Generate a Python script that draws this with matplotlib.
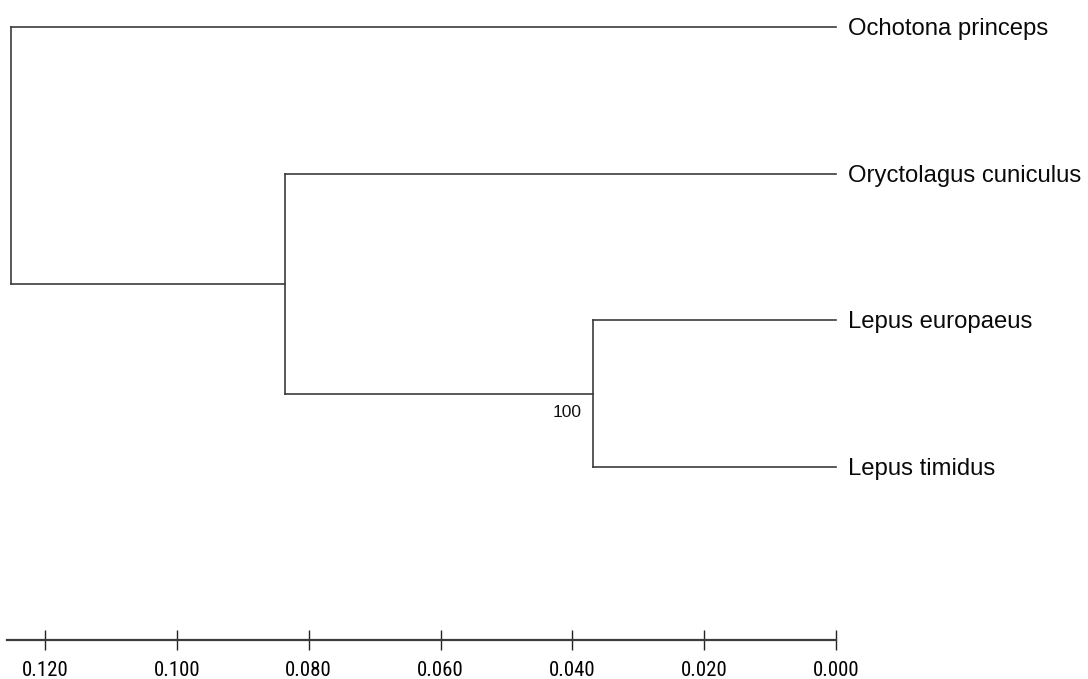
import matplotlib
matplotlib.use("Agg")
import matplotlib.pyplot as plt
from matplotlib import font_manager

# tree data
leaves = ["Ochotona princeps", "Oryctolagus cuniculus", "Lepus europaeus", "Lepus timidus"]
node_heights = {"root": 0.1252, "n1": 0.0836, "n2": 0.0368}
children = {"root": ["Ochotona princeps", "n1"],
            "n1": ["Oryctolagus cuniculus", "n2"],
            "n2": ["Lepus europaeus", "Lepus timidus"]}
bootstrap = {"n2": "100"}
scale_ticks = [0.120, 0.100, 0.080, 0.060, 0.040, 0.020, 0.000]

line_col = "#3c3c3c"
lw = 1.2

# narrow font for the scale labels if one is installed
installed = set(f.name for f in font_manager.fontManager.ttflist)
narrow = None
for name in ["Liberation Sans Narrow", "Arial Narrow", "DejaVu Sans Condensed", "Roboto Condensed"]:
    if name in installed:
        narrow = name
        break
if narrow:
    tick_font, tick_size = narrow, 15
else:
    tick_font, tick_size = "Liberation Sans", 13

fig = plt.figure(figsize=(10.88, 6.79), dpi=100)
ax = fig.add_axes([0, 0, 1, 1])
ax.set_xlim(0.12683, -0.03823)
ax.set_ylim(4.445, -0.184)
ax.axis("off")


def height(n):
    return node_heights.get(n, 0.0)


def ypos(n):
    if n in leaves:
        return leaves.index(n)
    ys = [ypos(c) for c in children[n]]
    return (ys[0] + ys[-1]) / 2


def draw(n):
    if n in leaves:
        ax.text(height(n) - 0.0018, ypos(n) + 0.055, n, ha="left", va="baseline",
                fontsize=17.2, family=["Liberation Sans", "DejaVu Sans"], color="#0a0a0a")
        return
    h = height(n)
    ys = [ypos(c) for c in children[n]]
    ax.plot([h, h], [ys[0], ys[-1]], color=line_col, lw=lw, solid_capstyle="projecting")
    for c, y in zip(children[n], ys):
        ax.plot([h, height(c)], [y, y], color=line_col, lw=lw, solid_capstyle="projecting")
        draw(c)
    if n in bootstrap:
        ax.text(h + 0.0018, ypos(n) + 0.125, bootstrap[n], ha="right", va="center",
                fontsize=12.5, family=["Liberation Sans", "DejaVu Sans"], color="#111111")


draw("root")

# scale bar along the bottom
ax2 = fig.add_axes([0, 1 - 640 / 679, 1, 0.0001])
ax2.set_xlim(ax.get_xlim())
ax2.set_ylim(0, 1)
ax2.patch.set_visible(False)
for s in ["top", "left", "right"]:
    ax2.spines[s].set_visible(False)
ax2.spines["bottom"].set_bounds(node_heights["root"] + 0.0005, 0.0)
ax2.spines["bottom"].set_color(line_col)
ax2.spines["bottom"].set_linewidth(1.6)
ax2.set_yticks([])
ax2.set_xticks(scale_ticks)
ax2.set_xticklabels(["%.3f" % t for t in scale_ticks],
                    family=[tick_font, "DejaVu Sans"], fontsize=tick_size)
ax2.tick_params(axis="x", direction="inout", length=14.4, width=1, color="#222222", pad=8)

fig.savefig("out.png", dpi=100)
